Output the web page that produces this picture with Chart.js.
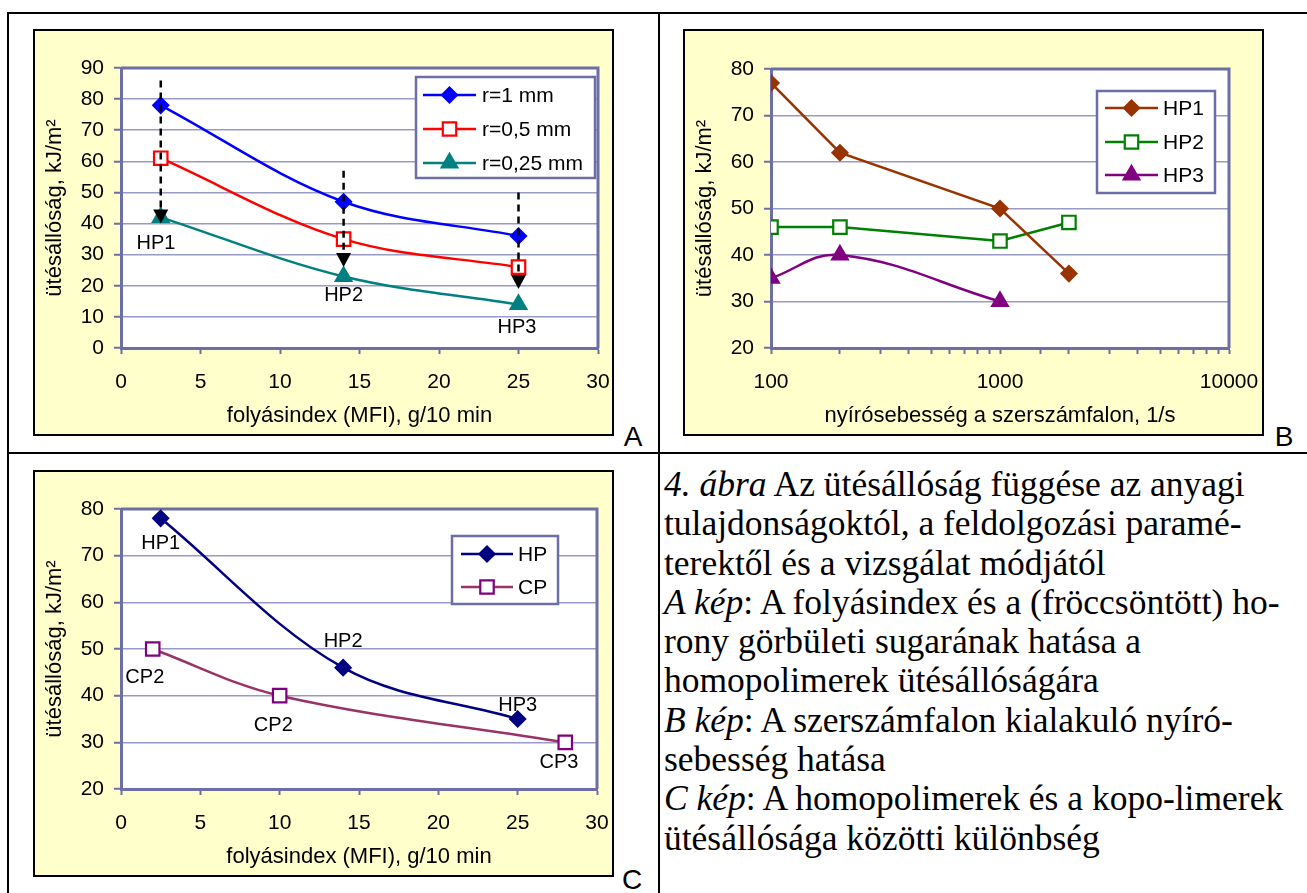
<!DOCTYPE html>
<html><head><meta charset="utf-8">
<script src="https://cdn.jsdelivr.net/npm/chart.js@4.4.0/dist/chart.umd.min.js"></script>
<style>
body{margin:0;background:#fff;width:1307px;height:893px;overflow:hidden;position:relative;font-family:'Liberation Sans',Arial,sans-serif}
.ln{position:absolute;background:#000}
.box{position:absolute;background:#FFFFCC;border:2px solid #000;box-sizing:border-box;width:581px;height:407px}
.box canvas{position:absolute;left:0;top:0}
.let{position:absolute;font-size:28px;line-height:28px;color:#000;transform:translate(-50%,-50%)}
#cap{position:absolute;left:664px;top:465px;font-family:'Liberation Serif','Times New Roman',serif;font-size:35.5px;line-height:39.3px;white-space:nowrap;color:#000}
</style></head><body>
<div class="ln" style="left:8px;top:12px;width:1299px;height:2px"></div>
<div class="ln" style="left:7px;top:12px;width:2px;height:881px"></div>
<div class="ln" style="left:658px;top:12px;width:2px;height:881px"></div>
<div class="ln" style="left:8px;top:452px;width:1299px;height:2px"></div>

<div class="box" style="left:33px;top:29px"><canvas id="cA" width="577" height="403"></canvas></div>
<div class="box" style="left:683px;top:29px"><canvas id="cB" width="577" height="403"></canvas></div>
<div class="box" style="left:33px;top:470px"><canvas id="cC" width="577" height="403"></canvas></div>

<div class="let" style="left:633px;top:437px">A</div>
<div class="let" style="left:1284px;top:437px">B</div>
<div class="let" style="left:632px;top:880px">C</div>

<div id="cap">
<div><i>4. ábra</i> Az ütésállóság függése az anyagi</div>
<div>tulajdonságoktól, a feldolgozási paramé-</div>
<div>terektől és a vizsgálat módjától</div>
<div><i>A kép</i>: A folyásindex és a (fröccsöntött) ho-</div>
<div>rony görbületi sugarának hatása a</div>
<div>homopolimerek ütésállóságára</div>
<div><i>B kép</i>: A szerszámfalon kialakuló nyíró-</div>
<div>sebesség hatása</div>
<div><i>C kép</i>: A homopolimerek és a kopo-limerek</div>
<div>ütésállósága közötti különbség</div>
</div>

<script>
// ---------- DATA ----------
// Chart A: impact strength vs MFI for notch radii
const mfiA = [2.5, 14, 25];
const r1mm = [78, 47, 36];
const r05mm = [61, 35, 26];
const r025mm = [42, 23, 14];
const namesA = ['r=1 mm', 'r=0,5 mm', 'r=0,25 mm'];
const arrowX = [2.5, 14, 25];
const arrowFrom = [86, 57, 50];
const arrowTo = [40, 26, 19];
const labelTextA = ['HP1', 'HP2', 'HP3'];
const labelXA = [2.2, 14, 24.9];
const labelYA = [33.6, 17, 6.7];

// Chart B: impact strength vs shear rate (log x)
const shearB = [100, 200, 1000, 2000];
const hp1B = [77, 62, 50, 36];
const hp2B = [46, 46, 43, 47];
const shearB3 = [100, 200, 1000];
const hp3B = [35, 40, 30];
const namesB = ['HP1', 'HP2', 'HP3'];
const xLabelsB = [100, 1000, 10000];

// Chart C: homopolymers vs copolymers
const mfiHP = [2.5, 14, 25];
const hpC = [78, 46, 35];
const mfiCP = [2, 10, 28];
const cpC = [50, 40, 30];
const namesC = ['HP', 'CP'];
const labelTextC = ['HP1', 'HP2', 'HP3', 'CP2', 'CP2', 'CP3'];
const labelXC = [2.5, 14, 25, 1.5, 9.6, 27.6];
const labelYC = [72.7, 51.7, 38, 43.8, 33.7, 25.6];

// ---------- STYLE ----------
const AXIS = '#6e6ea6';
const GRID = '#9a9ac6';
const FONT = "'Liberation Sans', Arial, sans-serif";
const YTITLE = 'ütésállóság, kJ/m²';
Chart.defaults.font.family = FONT;
Chart.defaults.font.size = 21;
Chart.defaults.color = '#000';

const xy = (xs, ys) => xs.map((x, i) => ({x, y: ys[i]}));

function drawMarker(ctx, ds, x, y) {
  ctx.save();
  ctx.fillStyle = ds.pointBackgroundColor;
  ctx.strokeStyle = ds.pointBorderColor;
  ctx.lineWidth = ds.pointBorderWidth;
  if (Chart.helpers && Chart.helpers.drawPoint) {
    Chart.helpers.drawPoint(ctx, {pointStyle: ds.pointStyle, radius: ds.pointRadius, rotation: 0, borderWidth: ds.pointBorderWidth}, x, y);
  }
  ctx.restore();
}

const framePlugin = {
  id: 'frame',
  beforeDraw(chart) {
    const a = chart.chartArea, c = chart.ctx;
    c.save(); c.fillStyle = '#fff'; c.fillRect(a.left, a.top, a.right - a.left, a.bottom - a.top); c.restore();
  },
  beforeDatasetsDraw(chart) {
    const a = chart.chartArea, c = chart.ctx;
    c.save(); c.strokeStyle = AXIS; c.lineWidth = 3;
    c.beginPath(); c.moveTo(a.left, a.top); c.lineTo(a.right, a.top); c.lineTo(a.right, a.bottom); c.stroke();
    c.restore();
  },
  afterDatasetsDraw(chart, args, opts) {
    const c = chart.ctx, sx = chart.scales.x, sy = chart.scales.y;
    if (opts.arrows) {
      const ar = opts.arrows;
      ar.x.forEach((xv, i) => {
        const px = sx.getPixelForValue(xv);
        const y0 = sy.getPixelForValue(ar.from[i]);
        const y1 = sy.getPixelForValue(ar.to[i]);
        c.save();
        c.strokeStyle = '#000'; c.lineWidth = 2.5; c.setLineDash([7, 5]);
        c.beginPath(); c.moveTo(px, y0); c.lineTo(px, y1 - 13); c.stroke();
        c.setLineDash([]);
        c.fillStyle = '#000';
        c.beginPath(); c.moveTo(px - 7.5, y1 - 14); c.lineTo(px + 7.5, y1 - 14); c.lineTo(px, y1); c.closePath(); c.fill();
        c.restore();
      });
    }
    if (opts.labels) {
      const L = opts.labels;
      c.save(); c.fillStyle = '#000'; c.font = '20px ' + FONT; c.textAlign = 'center'; c.textBaseline = 'middle';
      L.text.forEach((t, i) => c.fillText(t, sx.getPixelForValue(L.x[i]), sy.getPixelForValue(L.y[i])));
      c.restore();
    }
    if (opts.legend) {
      const g = opts.legend;
      c.save();
      c.fillStyle = '#fff'; c.fillRect(g.box[0], g.box[1], g.box[2] - g.box[0], g.box[3] - g.box[1]);
      c.strokeStyle = AXIS; c.lineWidth = 2.5; c.strokeRect(g.box[0], g.box[1], g.box[2] - g.box[0], g.box[3] - g.box[1]);
      chart.data.datasets.forEach((ds, i) => {
        const y = g.rows[i];
        c.strokeStyle = ds.borderColor; c.lineWidth = ds.borderWidth;
        c.beginPath(); c.moveTo(g.line[0], y); c.lineTo(g.line[1], y); c.stroke();
        drawMarker(c, ds, (g.line[0] + g.line[1]) / 2, y);
        c.fillStyle = '#000'; c.font = '21px ' + FONT; c.textAlign = 'left'; c.textBaseline = 'middle';
        c.fillText(ds.label, g.textX, y + 1);
      });
      c.restore();
    }
  }
};

function noPad(s) { s.paddingLeft = 0; s.paddingRight = 0; s.paddingTop = 0; s.paddingBottom = 0; }

function yScale(min, max, step) {
  return {
    type: 'linear', min, max,
    ticks: {stepSize: step, padding: 10, color: '#000', font: {size: 21}},
    grid: {color: GRID, lineWidth: 1.5, tickColor: AXIS, tickLength: 7, tickWidth: 2},
    border: {display: true, color: AXIS, width: 3},
    title: {display: true, text: YTITLE, color: '#000', font: {size: 22}, padding: {top: 7, bottom: 0}},
    afterFit(s) { s.width = 86; noPad(s); }
  };
}
function xLinear(title) {
  return {
    type: 'linear', min: 0, max: 30,
    ticks: {stepSize: 5, padding: 16, maxRotation: 0, autoSkip: false, color: '#000', font: {size: 21}},
    grid: {drawOnChartArea: false, drawTicks: true, tickLength: 6, tickColor: AXIS, tickWidth: 2},
    border: {display: true, color: AXIS, width: 3},
    title: {display: true, text: title, color: '#000', font: {size: 22}, padding: {top: 0, bottom: 5}},
    afterFit(s) { s.height = 86; noPad(s); }
  };
}
function ds(label, data, color, style, fill, radius, tension, pointColor) {
  return {
    label, data, borderColor: color, borderWidth: 2.5, tension,
    pointStyle: style, pointRadius: radius, pointHoverRadius: radius,
    pointBackgroundColor: fill, pointBorderColor: pointColor || color, pointBorderWidth: 2.2,
    fill: false
  };
}
const common = {
  responsive: false, animation: false, devicePixelRatio: 1,
  plugins: {legend: {display: false}, tooltip: {enabled: false}},
  events: []
};

// ---------- Chart A ----------
new Chart(document.getElementById('cA'), {
  type: 'line',
  data: {datasets: [
    ds(namesA[0], xy(mfiA, r1mm), '#0000FF', 'rectRot', '#0000FF', 7.5, 0.35),
    ds(namesA[1], xy(mfiA, r05mm), '#FF0000', 'rect', '#FFFFFF', 9.5, 0.35),
    ds(namesA[2], xy(mfiA, r025mm), '#008080', 'triangle', '#008080', 9, 0.35)
  ]},
  options: Object.assign({}, common, {
    layout: {padding: {left: 0, right: 14, top: 37, bottom: 0}},
    scales: {x: xLinear('folyásindex (MFI), g/10 min'), y: yScale(0, 90, 10)},
    plugins: Object.assign({}, common.plugins, {frame: {
      arrows: {x: arrowX, from: arrowFrom, to: arrowTo},
      labels: {text: labelTextA, x: labelXA, y: labelYA},
      legend: {box: [381, 46, 560, 147], rows: [64, 98, 132], line: [388, 441], textX: 447}
    }})
  }),
  plugins: [framePlugin]
});

// ---------- Chart B ----------
new Chart(document.getElementById('cB'), {
  type: 'line',
  data: {datasets: [
    ds(namesB[0], xy(shearB, hp1B), '#993300', 'rectRot', '#993300', 7.5, 0),
    ds(namesB[1], xy(shearB, hp2B), '#008000', 'rect', '#FFFFFF', 9.5, 0),
    ds(namesB[2], xy(shearB3, hp3B), '#800080', 'triangle', '#800080', 9, 0.4)
  ]},
  options: Object.assign({}, common, {
    layout: {padding: {left: 0, right: 33, top: 38, bottom: 0}},
    scales: {
      x: {
        type: 'logarithmic', min: 100, max: 10000,
        ticks: {padding: 16, maxRotation: 0, autoSkip: false, color: '#000', font: {size: 21},
          callback: (v) => xLabelsB.includes(v) ? String(v) : ''},
        grid: {drawOnChartArea: false, drawTicks: true, tickLength: 6, tickColor: AXIS, tickWidth: 2},
        border: {display: true, color: AXIS, width: 3},
        title: {display: true, text: 'nyírósebesség a szerszámfalon, 1/s', color: '#000', font: {size: 22}, padding: {top: 0, bottom: 5}},
        afterFit(s) { s.height = 86; noPad(s); }
      },
      y: yScale(20, 80, 10)
    },
    plugins: Object.assign({}, common.plugins, {frame: {
      legend: {box: [412, 60, 530, 162], rows: [77, 111, 144], line: [420, 473], textX: 478}
    }})
  }),
  plugins: [framePlugin]
});

// ---------- Chart C ----------
new Chart(document.getElementById('cC'), {
  type: 'line',
  data: {datasets: [
    ds(namesC[0], xy(mfiHP, hpC), '#000080', 'rectRot', '#000080', 7.5, 0.35),
    ds(namesC[1], xy(mfiCP, cpC), '#993366', 'rect', '#FFFFFF', 9.5, 0.35, '#800080')
  ]},
  options: Object.assign({}, common, {
    layout: {padding: {left: 0, right: 15, top: 37, bottom: 0}},
    scales: {x: xLinear('folyásindex (MFI), g/10 min'), y: yScale(20, 80, 10)},
    plugins: Object.assign({}, common.plugins, {frame: {
      labels: {text: labelTextC, x: labelXC, y: labelYC},
      legend: {box: [417, 64, 523, 132], rows: [82, 115], line: [426, 478], textX: 483}
    }})
  }),
  plugins: [framePlugin]
});
</script>
</body></html>
